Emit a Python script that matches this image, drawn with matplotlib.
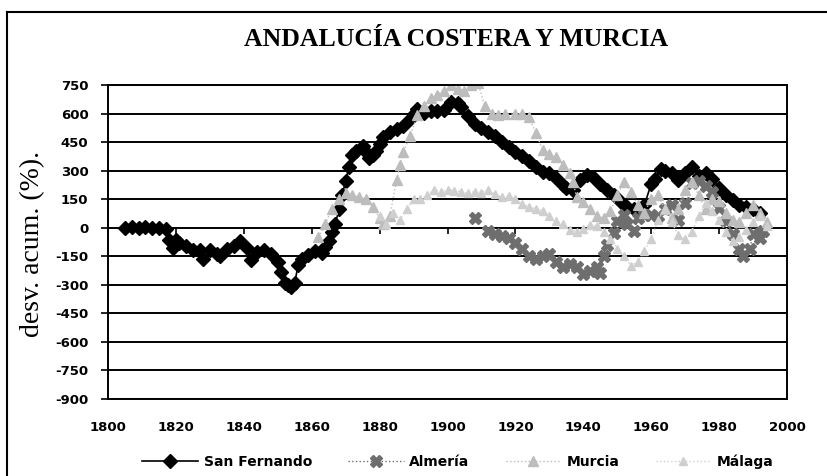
import numpy as np
import matplotlib
matplotlib.use('Agg')
from matplotlib import pyplot as plt
from matplotlib.lines import Line2D

# San Fernando
sf_years = [1805, 1807, 1809, 1811, 1813, 1815, 1817, 1818, 1819, 1820, 1821, 1823, 1825, 1827,
            1828, 1830, 1832, 1833, 1835, 1837, 1839, 1841, 1842, 1844, 1846, 1848, 1850, 1851,
            1852, 1853, 1854, 1855, 1856, 1857, 1859, 1861, 1863, 1864, 1865, 1866, 1867, 1868,
            1869, 1870, 1871, 1872, 1873, 1875, 1876, 1877, 1878, 1879, 1880, 1881, 1883, 1885,
            1887, 1889, 1890, 1891, 1893, 1895, 1897, 1899, 1901, 1903, 1904, 1906, 1908, 1910,
            1912, 1914, 1916, 1918, 1920, 1922, 1924, 1926, 1928, 1930, 1932, 1934, 1935, 1937,
            1939, 1941, 1943, 1945, 1947, 1949, 1951, 1953, 1955, 1957, 1958, 1960, 1961, 1963,
            1964, 1966, 1968, 1970, 1972, 1974, 1976, 1978, 1980, 1982, 1984, 1986, 1988, 1990,
            1992]
sf_vals = [0, 3, 0, 2, -2, 0, -5, -62, -105, -65, -80, -95, -115, -118,
           -165, -115, -140, -150, -110, -95, -72, -108, -168, -125, -115, -140, -180, -232,
           -290, -300, -312, -290, -195, -162, -145, -120, -132, -100, -70, -20, 18, 100,
           172, 248, 318, 380, 404, 427, 400, 365, 380, 404, 440, 476, 502, 519,
           536, 571, 595, 623, 605, 612, 614, 618, 659, 655, 632, 588, 545, 522,
           505, 480, 452, 425, 400, 375, 350, 320, 294, 285, 260, 225, 211, 200,
           250, 275, 265, 230, 200, 172, 137, 110, 100, 86, 120, 230, 255, 310,
           300, 290, 250, 290, 320, 270, 290, 255, 210, 170, 147, 120, 110, 100,
           78]

# Almeria
al_years = [1908, 1910, 1912, 1914, 1916, 1918, 1920, 1922, 1924, 1926, 1928, 1930, 1932, 1934,
            1936, 1938, 1940, 1942, 1944, 1945, 1946, 1947, 1949, 1950, 1952, 1953, 1955, 1956,
            1958, 1960, 1962, 1964, 1966, 1968, 1970, 1972, 1974, 1976, 1978, 1980, 1982, 1984,
            1986, 1987, 1989, 1990, 1992, 1993]
al_vals = [52, np.nan, -17, -35, -43, -52, -78, -112, -150, -166, -150, -140, -178, -206,
           -190, -206, -245, -225, -206, -240, -150, -92, -26, 35, 69, 17, -17, 52,
           69, 69, 60, 100, 121, 43, 130, 236, 245, 218, 186, 103, 35, -35,
           -112, -150, -112, -35, -52, -17]

# Murcia
mu_years = [1862, 1864, 1866, 1868, 1870, 1872, 1874, 1876, 1878, 1880, 1881, 1883, 1885, 1886,
            1887, 1889, 1891, 1893, 1895, 1897, 1899, 1901, 1903, 1905, 1907, 1909, 1911, 1913,
            1915, 1917, 1920, 1922, 1924, 1926, 1928, 1930, 1932, 1934, 1936, 1937, 1938, 1940,
            1942, 1944, 1946, 1948, 1950, 1952, 1954, 1956, 1958, 1960, 1962, 1964, 1966, 1968,
            1970, 1972, 1974, 1976, 1978, 1980, 1982, 1984, 1986, 1988, 1990, 1992, 1994]
mu_vals = [-50, 20, 100, 150, 180, 170, 160, 150, 110, 50, 20, 60, 250, 330,
           400, 480, 590, 640, 680, 700, 720, 750, 730, 720, 750, 760, 640, 600,
           590, 595, 598, 600, 580, 500, 410, 390, 370, 330, 290, 240, 160, 137,
           100, 60, 50, 90, 170, 240, 190, 120, 80, 150, 170, 100, 50, 100,
           200, 240, 170, 100, 150, 140, 80, 40, 30, 80, 120, 80, 30]

# Malaga
ma_years = [1880, 1882, 1884, 1886, 1888, 1890, 1892, 1894, 1896, 1898, 1900, 1902, 1904, 1906,
            1908, 1910, 1912, 1914, 1916, 1918, 1920, 1922, 1924, 1926, 1928, 1930, 1932, 1934,
            1936, 1938, 1940, 1942, 1944, 1946, 1948, 1950, 1952, 1954, 1956, 1958, 1960, 1962,
            1964, 1966, 1968, 1970, 1972, 1974, 1976, 1978, 1980, 1982, 1984, 1986, 1988, 1990,
            1992, 1994]
ma_vals = [60, 20, 80, 40, 100, 150, 150, 170, 200, 190, 200, 195, 190, 180,
           190, 185, 200, 175, 160, 165, 150, 125, 110, 100, 90, 60, 35, 20,
           -10, -20, -5, 15, 10, -20, -60, -110, -150, -200, -180, -120, -60, 40,
           100, 30, -40, -60, -20, 60, 130, 90, 40, -20, -70, -50, -10, 30,
           60, 10]

labels = ['San Fernando', 'Almería', 'Murcia', 'Málaga']
yticks = list(range(-900, 751, 150))
xticks = list(range(1800, 2001, 20))

W, H = 828, 476
fig = plt.figure(figsize=(W / 100, H / 100), dpi=100)
ax = fig.add_axes([108 / W, 1 - 399 / H, (787 - 108) / W, (399 - 85) / H])

ax.plot(sf_years, sf_vals, color='black', lw=1.2, marker='D', ms=7, label=labels[0])
ax.plot(al_years, al_vals, color='#6e6e6e', lw=1, ls=':', marker='X', ms=8, label=labels[1])
ax.plot(mu_years, mu_vals, color='#bdbdbd', lw=1, ls=':', marker='^', ms=7, label=labels[2])
ax.plot(ma_years, ma_vals, color='#cfcfcf', lw=1, ls=':', marker='^', ms=6, label=labels[3])

ax.set_xlim(1800, 2000)
ax.set_ylim(-900, 750)
ax.set_yticks(yticks)
ax.set_yticklabels([str(v) for v in yticks])
ax.set_xticks(xticks)
ax.set_xticklabels([str(v) for v in xticks])
ax.yaxis.grid(True, color='black', lw=1.4)
ax.set_axisbelow(True)
ax.tick_params(axis='x', length=0, pad=16)
ax.tick_params(axis='y', length=5, width=1.2, pad=9, direction='out')
for lab in ax.get_xticklabels() + ax.get_yticklabels():
    lab.set_fontfamily('DejaVu Sans')
    lab.set_fontweight('bold')
    lab.set_fontsize(9.5)
for s in ax.spines.values():
    s.set_linewidth(1.4)

# small ticks hanging from the zero line
ax.vlines(xticks[1:-1], -35, 0, color='black', lw=1.2, zorder=1)

fig.text(456 / W, 1 - 40 / H, 'ANDALUCÍA COSTERA Y MURCIA', ha='center', va='center',
         family='Liberation Serif', weight='bold', fontsize=18.5)
fig.text(33 / W, 1 - 244 / H, 'desv. acum. (%).', rotation=90, ha='center', va='center',
         family='Liberation Serif', fontsize=20)

fig.legend(loc='center', bbox_to_anchor=(458 / W, 1 - 462 / H), ncol=4, frameon=False,
           handlelength=4, columnspacing=2.6, handletextpad=0.4,
           prop=dict(family='DejaVu Sans', weight='bold', size=10))

# outer chart frame (cut at right and bottom)
fig.add_artist(Line2D([7 / W, 7 / W], [0, 1 - 12 / H], color='black', lw=1.5))
fig.add_artist(Line2D([7 / W, 1], [1 - 12 / H, 1 - 12 / H], color='black', lw=1.5))

fig.savefig('out.png', dpi=100)
